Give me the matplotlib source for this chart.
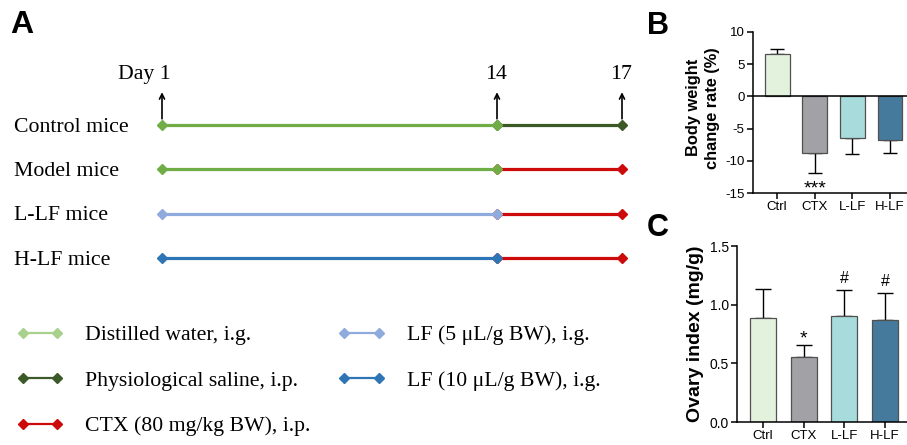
import numpy as np
import matplotlib
matplotlib.use("Agg")
import matplotlib.pyplot as plt
from matplotlib.lines import Line2D

plt.rcParams["axes.unicode_minus"] = False

# ---------------- data ----------------
groups = ["Control mice", "Model mice", "L-LF mice", "H-LF mice"]
milestone_days = [1, 14, 17]
day_labels = ["Day 1", "14", "17"]
phase1_treat = ["Distilled water, i.g.", "Distilled water, i.g.",
                "LF (5 \u03bcL/g BW), i.g.", "LF (10 \u03bcL/g BW), i.g."]
phase2_treat = ["Physiological saline, i.p.", "CTX (80 mg/kg BW), i.p.",
                "CTX (80 mg/kg BW), i.p.", "CTX (80 mg/kg BW), i.p."]
legend_items = ["Distilled water, i.g.", "Physiological saline, i.p.",
                "CTX (80 mg/kg BW), i.p.", "LF (5 \u03bcL/g BW), i.g.",
                "LF (10 \u03bcL/g BW), i.g."]

bar_cats = ["Ctrl", "CTX", "L-LF", "H-LF"]
bw_mean = [6.55, -8.85, -6.5, -6.7]
bw_err = [0.85, 3.1, 2.5, 2.05]
bw_sig = ["", "***", "", ""]
ov_mean = [0.885, 0.558, 0.905, 0.868]
ov_err = [0.245, 0.098, 0.222, 0.232]
ov_sig = ["", "*", "#", "#"]

# ---------------- styles ----------------
timeline_colors = {"Distilled water, i.g.": "#70ad47",
                   "Physiological saline, i.p.": "#3b5a27",
                   "CTX (80 mg/kg BW), i.p.": "#cc0a0a",
                   "LF (5 \u03bcL/g BW), i.g.": "#8faadc",
                   "LF (10 \u03bcL/g BW), i.g.": "#2e75b6"}
legend_colors = dict(timeline_colors)
legend_colors["Distilled water, i.g."] = "#a9d18e"
bar_colors = ["#e2f2dc", "#a2a2a6", "#a8dcdc", "#457a9c"]

W, H = 907, 445
fig = plt.figure(figsize=(W / 100, H / 100), dpi=100)
serif = "Liberation Serif"
sans = "Liberation Sans"

# ---------------- panel A ----------------
fig.text(10 / W, 1 - 25 / H, "A", fontsize=23, fontweight="bold",
         family=sans, va="center", ha="left")

axA = fig.add_axes([162 / W, 0, (622 - 162) / W, 1])
day_px = [0, 335, 460]
fwd = lambda d: np.interp(d, milestone_days, day_px)
inv = lambda p: np.interp(p, day_px, milestone_days)
axA.set_xscale("function", functions=(fwd, inv))
axA.set_xlim(milestone_days[0], milestone_days[-1])
row_px = 44.33
axA.set_ylim((445 - 125) / row_px, -125 / row_px)
axA.axis("off")

for i, g in enumerate(groups):
    c1 = timeline_colors[phase1_treat[i]]
    c2 = timeline_colors[phase2_treat[i]]
    axA.plot(milestone_days[1:], [i, i], color=c2, lw=2.3, marker="D",
             ms=5.2, clip_on=False, solid_capstyle="butt")
    axA.plot(milestone_days[:2], [i, i], color=c1, lw=2.3, marker="D",
             ms=5.2, clip_on=False, solid_capstyle="butt")
    axA.annotate(g, xy=(0, i), xycoords=("axes fraction", "data"),
                 xytext=(-148 * 0.72, -1.5), textcoords="offset points",
                 fontsize=15.7, family=serif, va="center", ha="left")

for d, lab in zip(milestone_days, day_labels):
    axA.annotate("", xy=(d, -0.74), xytext=(d, -0.14),
                 arrowprops=dict(arrowstyle="->", lw=1.2, color="black",
                                 shrinkA=0, shrinkB=0, mutation_scale=9))
    if lab.startswith("Day"):
        axA.annotate(lab, xy=(d, -1.2), xytext=(6, -2), textcoords="offset points",
                     fontsize=15.7, family=serif, ha="right", va="center")
    else:
        axA.annotate(lab, xy=(d, -1.2), xytext=(-1, -2), textcoords="offset points",
                     fontsize=15.7, family=serif, ha="center", va="center")

handles = [Line2D([], [], color=legend_colors[t], lw=1.6, marker="D", ms=5.2)
           for t in legend_items]
leg = fig.legend(handles, legend_items, loc="upper left",
                 bbox_to_anchor=(16 / W, 1 - 325 / H), ncol=2, frameon=False,
                 prop=dict(family=serif, size=15.7), numpoints=2,
                 handlelength=2.2, handletextpad=0.97, columnspacing=1.25,
                 labelspacing=1.16, borderpad=0, borderaxespad=0)

# ---------------- panel B ----------------
def style_axes(ax):
    for s in ["top", "right"]:
        ax.spines[s].set_visible(False)
    for s in ["left", "bottom"]:
        ax.spines[s].set_linewidth(1.1)
    ax.tick_params(width=1.1, length=4, labelsize=9.5, pad=2)
    for lab in ax.get_xticklabels() + ax.get_yticklabels():
        lab.set_family(sans)

fig.text(647 / W, 1 - 26 / H, "B", fontsize=22, fontweight="bold",
         family=sans, va="center", ha="left")
axB = fig.add_axes([753 / W, 1 - 193 / H, (907 - 753) / W, (193 - 32) / H])
xb = np.arange(len(bar_cats))
bw_yerr = [[0 if m >= 0 else e for m, e in zip(bw_mean, bw_err)],
           [e if m >= 0 else 0 for m, e in zip(bw_mean, bw_err)]]
axB.bar(xb, bw_mean, width=0.66, color=bar_colors, edgecolor="#505050",
        linewidth=0.9, zorder=2)
axB.errorbar(xb, bw_mean, yerr=bw_yerr, fmt="none", ecolor="black",
             elinewidth=1.0, capsize=5.2, capthick=1.0, zorder=1)
axB.axhline(0, color="black", lw=1.1, zorder=3)
axB.set_xlim(-0.64, 3.45)
axB.set_ylim(-15, 10)
axB.set_yticks([-15, -10, -5, 0, 5, 10])
axB.set_xticks(xb)
axB.set_xticklabels(bar_cats)
style_axes(axB)
axB.set_ylabel("Body weight\nchange rate (%)", fontsize=11.8,
               fontweight="bold", family=sans, linespacing=1.3, labelpad=1)
axB.yaxis.set_label_coords(-0.215, 0.53)
for x, m, e, s in zip(xb, bw_mean, bw_err, bw_sig):
    if s:
        axB.text(x, -15.0, s, ha="center", va="baseline", fontsize=14,
                 family=sans)

# ---------------- panel C ----------------
fig.text(647 / W, 1 - 228 / H, "C", fontsize=22, fontweight="bold",
         family=sans, va="center", ha="left")
axC = fig.add_axes([737 / W, 1 - 422 / H, (907 - 737) / W, (422 - 246) / H])
axC.bar(xb, ov_mean, width=0.64, color=bar_colors, edgecolor="#505050",
        linewidth=0.9, zorder=2)
axC.errorbar(xb, ov_mean, yerr=[[0] * 4, ov_err], fmt="none", ecolor="black",
             elinewidth=1.0, capsize=6, capthick=1.0, zorder=1)
axC.set_xlim(-0.64, 3.54)
axC.set_ylim(0, 1.5)
axC.set_yticks([0.0, 0.5, 1.0, 1.5])
axC.set_yticklabels(["0.0", "0.5", "1.0", "1.5"])
axC.set_xticks(xb)
axC.set_xticklabels(bar_cats)
style_axes(axC)
axC.tick_params(axis="y", labelsize=10)
axC.set_ylabel("Ovary index (mg/g)", fontsize=14, fontweight="bold",
               family=sans, labelpad=4)
for x, m, e, s in zip(xb, ov_mean, ov_err, ov_sig):
    if s == "*":
        axC.text(x, m + e + 0.012, s, ha="center", va="baseline",
                 fontsize=14, family=sans)
    elif s:
        axC.text(x, m + e + 0.06, s, ha="center", va="baseline",
                 fontsize=11.5, family=sans)

fig.savefig("out.png", dpi=100)
